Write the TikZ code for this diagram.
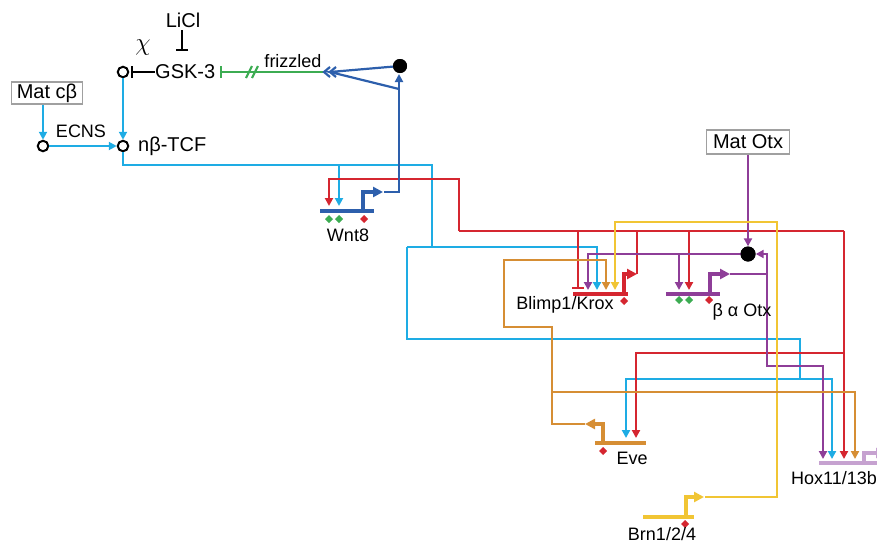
\documentclass[tikz,border=0pt]{standalone}
\usepackage{fontspec}
\setmainfont{Liberation Sans}
\usetikzlibrary{arrows.meta}
\definecolor{cred}{RGB}{213,38,48}
\definecolor{cblue}{RGB}{30,172,228}
\definecolor{cdblue}{RGB}{45,95,172}
\definecolor{cpurp}{RGB}{142,62,152}
\definecolor{corange}{RGB}{214,142,52}
\definecolor{cyellow}{RGB}{241,197,52}
\definecolor{cgreen}{RGB}{60,172,82}
\definecolor{clpurp}{RGB}{198,162,208}
\definecolor{cgray}{RGB}{160,160,160}
\newcommand\dmd[3]{\fill[#1] (#2,#3) +(0,-4) -- +(4,0) -- +(0,4) -- +(-4,0) -- cycle;}
\tikzset{
  wire/.style={line width=2.2pt},
  act/.style={wire,-{Triangle[length=8pt,width=8pt]}},
  rep/.style={wire,-{Bar[width=12pt,line width=2.2pt]}},
  genebar/.style={line width=4.8pt},
  prom/.style={line width=4.2pt,-{Triangle[length=10pt,width=10pt]}},
  opencirc/.style={circle,draw,line width=2pt,minimum size=10.5pt,inner sep=0pt},
  blackdot/.style={circle,fill=black,minimum size=15pt,inner sep=0pt},
  matbox/.style={draw=cgray,line width=1.8pt,inner sep=0pt,font=\fontsize{20}{24}\selectfont},
  big/.style={font=\fontsize{20}{24}\selectfont},
  lab/.style={font=\fontsize{18}{22}\selectfont},
}
\begin{document}
\begin{tikzpicture}[x=1pt,y=-1pt,every node/.style={inner sep=0pt}]
\useasboundingbox (0,0) rectangle (877,544);

% ---------- top left ----------
\node[big] (licl) at (183,20) {LiCl};
\node[font=\fontsize{23}{26}\selectfont] (chi) at (143,48) {$\chi$};
\node[big,anchor=west] (gsk) at (155,72) {GSK-3};
\node[opencirc] (c1) at (123,72) {};
\node[opencirc] (c2) at (123,146) {};
\node[opencirc] (c0) at (43,146) {};
\node[big,anchor=west] (ntcf) at (138,146) {nβ-TCF};
\node[matbox,minimum width=71pt,minimum height=22pt] (matcb) at (47,93) {Mat cβ};
\node[lab] (ecns) at (81,131) {ECNS};
\node[lab] (friz) at (293,61) {frizzled};

\draw[rep] (182,30) -- (182,51);
\draw[rep] (gsk.west) -- (131,72);
\draw[act,cblue] (matcb.south -| c0) -- (c0.north);
\draw[act,cblue] (c0.east) -- (c2.west);
\draw[act,cblue] (c1.south) -- (c2.north);

% frizzled / Wnt8 signal
\node[blackdot,minimum size=14pt] (wdot) at (400,66) {};
\coordinate (chev) at (330,72);
\draw[rep,cgreen] (324,72) -- (220,72);
\draw[wire,cgreen] (246,78) -- (252,66) (252,78) -- (258,66);
\draw[wire,cdblue] (wdot.center) -- (chev) -- (399,89);
\draw[wire,cdblue] (330,67) -- (324,72) -- (330,77);
\draw[wire,cdblue] (336,67) -- (330,72) -- (336,77);

% ---------- light blue : nbeta-TCF ----------
\draw[wire,cblue] (c2.south) -- (123,165) -- (432,165) -- (432,247);
\draw[act,cblue] (339,165) -- (339,206);
\draw[act,cblue] (407,247) -- (597,247) -- (597,290);
\draw[wire,cblue] (407,247) -- (407,339) -- (800,339) -- (800,379);
\draw[act,cblue] (800,379) -- (626,379) -- (626,438);
\draw[act,cblue] (800,379) -- (832,379) -- (832,459);

% ---------- red : Blimp1/Krox ----------
\draw[wire,cred] (637,274) -- (637,231);
\draw[wire,cred] (459,231) -- (844,231);
\draw[act,cred] (459,231) -- (459,179) -- (329,179) -- (329,206);
\draw[rep,cred] (578,231) -- (578,289);
\draw[act,cred] (689,231) -- (689,290);
\draw[act,cred] (844,231) -- (844,459);
\draw[act,cred] (844,353) -- (636,353) -- (636,438);

% ---------- purple : Otx ----------
\node[blackdot] (cplx) at (748,254) {};
\node[matbox,minimum width=83pt,minimum height=24pt] (matotx) at (748,142) {Mat Otx};
\draw[act,cpurp] (matotx.south) -- (cplx.north);
\draw[act,cpurp] (cplx.center) -- (588,254) -- (588,290);
\draw[act,cpurp] (679,254) -- (679,290);
\draw[wire,cpurp] (730,274) -- (767,274);
\draw[act,cpurp] (767,274) -- (767,254) -- (cplx.east);
\draw[act,cpurp] (767,274) -- (767,366) -- (823,366) -- (823,459);

% ---------- yellow : Brn ----------
\draw[act,cyellow] (705,497) -- (777,497) -- (777,222) -- (615,222) -- (615,290);

% ---------- orange : Eve ----------
\draw[act,corange] (585,424) -- (552,424) -- (552,327) -- (504,327) -- (504,260) -- (606,260) -- (606,290);
\draw[act,corange] (552,392) -- (855,392) -- (855,459);

% ---------- dark blue : Wnt8 ----------
\draw[act,cdblue] (384,192) -- (399,192) -- (399,74);

% dots on top of the wires
\fill (wdot) circle (7pt);
\fill (cplx) circle (7.5pt);

% ---------- genes ----------
% Wnt8
\draw[genebar,cdblue] (320,211) -- (374,211);
\draw[prom,cdblue] (363,213) -- (363,192) -- (383,192);
\dmd{cgreen}{329}{219}\dmd{cgreen}{339}{219}\dmd{cred}{364}{219}
\node[lab] (wnt8) at (348,235) {Wnt8};
% Blimp1/Krox
\draw[genebar,cred] (573,294) -- (628,294);
\draw[prom,cred] (624,296) -- (624,274) -- (637,274);
\dmd{cred}{624}{301}
\node[lab] (krox) at (565,305) {Blimp1/Krox};
% Otx
\draw[genebar,cpurp] (666,294) -- (720,294);
\draw[prom,cpurp] (710,296) -- (710,274) -- (730,274);
\dmd{cgreen}{679}{300}\dmd{cgreen}{689}{300}\dmd{cred}{709}{300}
\node[lab] (otx) at (742,312) {β α Otx};
% Eve
\draw[genebar,corange] (595,443) -- (646,443);
\draw[prom,corange] (603,445) -- (603,424) -- (585,424);
\dmd{cred}{603}{451}
\node[lab] (eve) at (632,458) {Eve};
% Brn1/2/4
\draw[genebar,cyellow] (643,517) -- (694,517);
\draw[prom,cyellow] (686,519) -- (686,497) -- (704,497);
\dmd{cred}{685}{524}
\node[lab] (brn) at (662,534) {Brn1/2/4};
% Hox11/13b
\draw[genebar,clpurp] (819,463) -- (882,463);
\draw[prom,clpurp] (864,465) -- (864,453) -- (886,453);
\node[lab,anchor=west] (hox) at (791,478) {Hox11/13b};
\end{tikzpicture}
\end{document}
